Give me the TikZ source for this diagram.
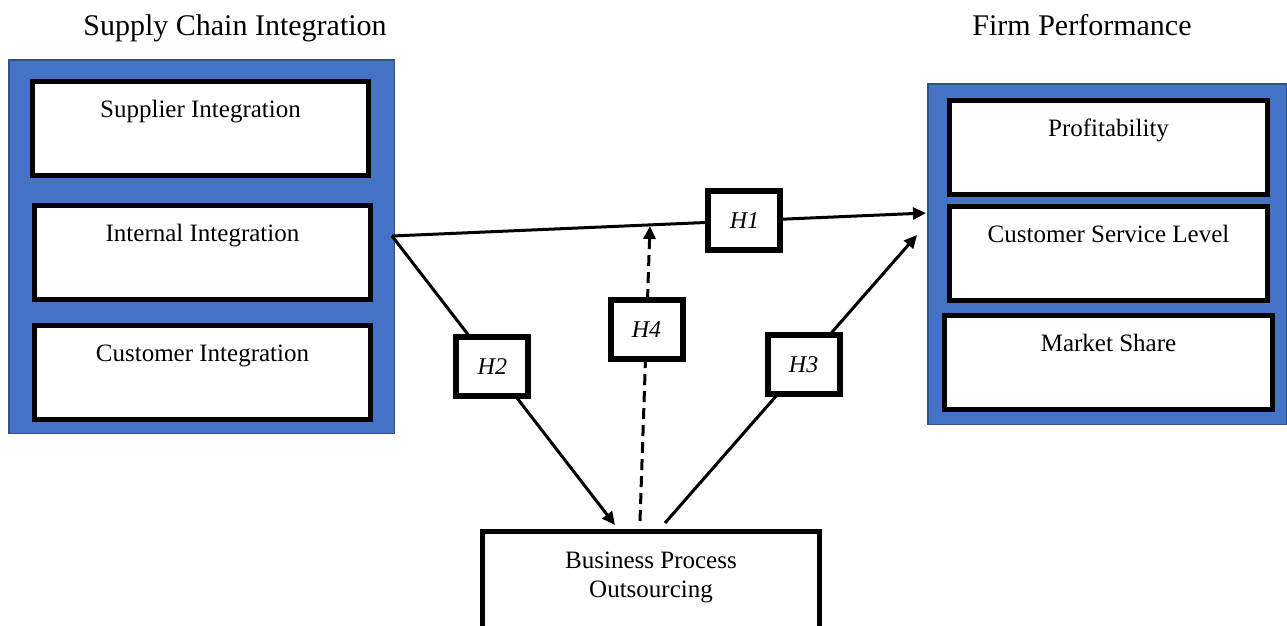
\documentclass[tikz,border=0pt]{standalone}
\usepackage{fontspec}
\setmainfont{Liberation Serif}
\usepackage{tikz}
\usetikzlibrary{
  arrows.meta,
  positioning,
  calc
}
\definecolor{scBlue}{HTML}{4472C4}
\definecolor{scEdge}{HTML}{2F528F}
\tikzset{
  panel/.style={
    draw=scEdge, fill=scBlue, line width=1.5pt, inner sep=0pt
  },
  itembox/.style={
    draw, fill=white, line width=5pt, inner sep=0pt, align=flush center,
    text width=336pt, text height=35.5pt, text depth=58.5pt,
    font={\fontsize{25}{29}\selectfont}
  },
  hypbox/.style={
    draw, fill=white, solid, line width=6pt, minimum width=72pt, minimum height=59pt,
    inner sep=0pt, font={\fontsize{24}{28}\selectfont\itshape}
  },
  heading/.style={font={\fontsize{30}{36}\selectfont}, anchor=base},
  link/.style={-{Triangle[length=13pt, width=12pt]}, line width=3pt},
  modlink/.style={link, dash pattern=on 11pt off 6pt}
}

\begin{document}
\begin{tikzpicture}[x=1pt, y=-1pt, node distance=20pt]
  \useasboundingbox (0,0) rectangle (1287,625);
  % headings
  \node[heading] (scititle) at (235,35) {Supply Chain Integration};
  \node[heading] (fptitle) at (1082,35) {Firm Performance};
  % supply chain integration
  \node[panel, anchor=north west, minimum width=385.5pt, minimum height=373.5pt] (sci) at (8,59) {};
  \node[itembox, anchor=north west] (si) at (30,79) {Supplier Integration};
  \node[itembox, below=25pt of si, xshift=2pt] (ii) {Internal Integration};
  \node[itembox, below=21pt of ii] (ci) {Customer Integration};
  % firm performance
  \node[panel, anchor=north west, minimum width=358.5pt, minimum height=340.5pt] (fp) at (927,83) {};
  \node[itembox, anchor=north west, text width=318pt] (prof) at (947,98) {Profitability};
  \node[itembox, below=7pt of prof, text width=318pt] (csl) {Customer Service Level};
  \node[itembox, below=10pt of csl, text width=328pt] (ms) {Market Share};
  % mediator
  \node[itembox, anchor=north west, text width=337pt, text height=36.5pt, text depth=120pt] (bpo) at (480,529) {Business Process\\Outsourcing};
  % hypotheses
  \coordinate (sciout) at (392,236);
  \coordinate (fpin) at (926,213);
  \coordinate (fpin2) at (917,235);
  \coordinate (bpoin) at (615,525);
  \coordinate (bpoout) at (665,523);
  \coordinate (bpomod) at (640,521);
  \coordinate (modpt) at (650,226);
  \draw[link] (sciout) -- node[hypbox, pos=.66] (h1) {H1} (fpin);
  \draw[link] (sciout) -- node[hypbox, pos=.45] (h2) {H2} (bpoin);
  \draw[link] (bpoout) -- node[hypbox, pos=.55] (h3) {H3} (fpin2);
  \draw[modlink] (bpomod) -- node[hypbox, pos=.65] (h4) {H4} (modpt);
\end{tikzpicture}
\end{document}
